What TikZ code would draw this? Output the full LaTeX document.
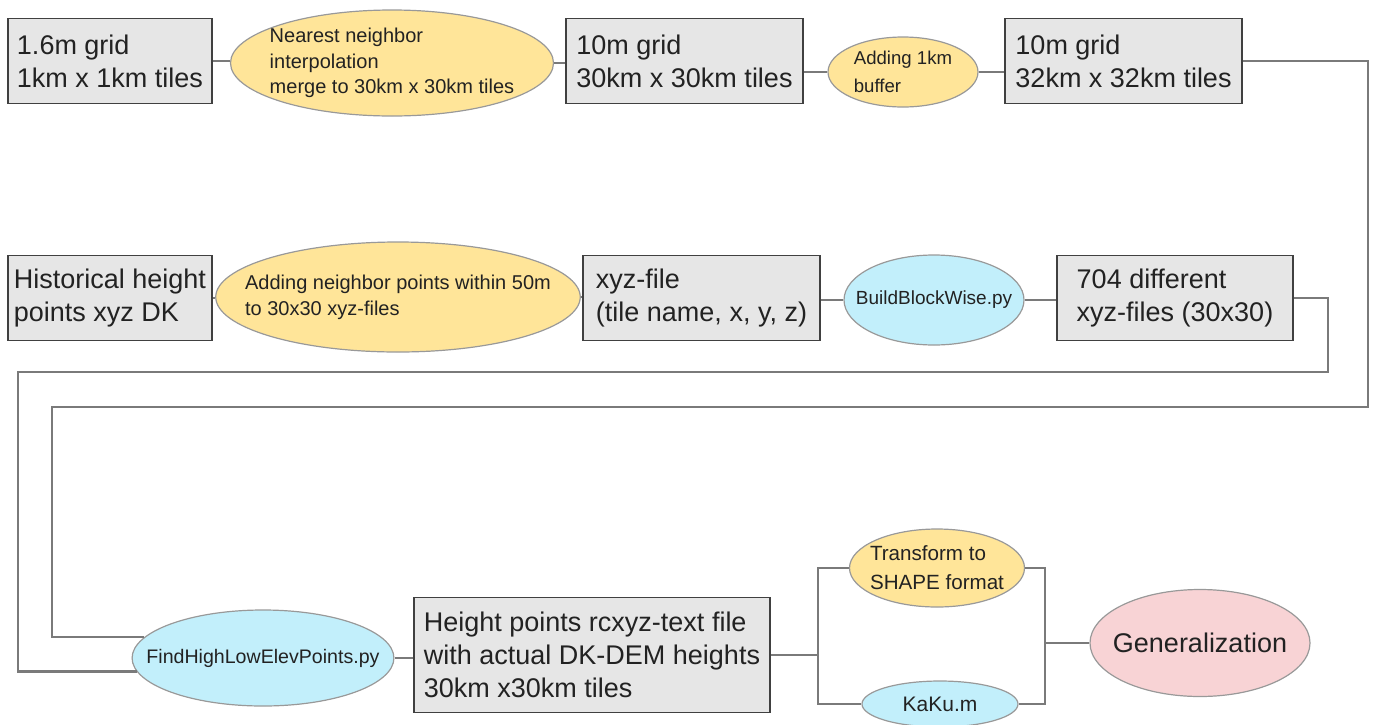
\documentclass[tikz,border=0pt]{standalone}
\usepackage{fontspec}
\setmainfont{Liberation Sans}
\usetikzlibrary{shapes.geometric}

\definecolor{boxgray}{HTML}{E6E6E6}
\definecolor{stepyellow}{HTML}{FFE599}
\definecolor{scriptblue}{HTML}{C2EFFB}
\definecolor{finalpink}{HTML}{F8D3D5}
\definecolor{linkgray}{HTML}{7A7A7A}
\definecolor{inkgray}{HTML}{222222}

\begin{document}
\begin{tikzpicture}[x=0.5pt,y=-0.5pt,
	every node/.style = {text=inkgray},
	databox/.style = {draw=black!75, line width=0.9pt, fill=boxgray, align=left,
		font=\fontsize{13.5}{16.5}\selectfont, inner xsep=2pt, minimum height=42.5pt},
	oval/.style = {ellipse, draw=black!40, line width=0.6pt, inner sep=-12pt, align=left},
	task/.style = {oval, fill=stepyellow, font=\fontsize{10}{12.7}\selectfont},
	script/.style = {oval, fill=scriptblue, font=\fontsize{9.5}{12}\selectfont},
	link/.style = {draw=linkgray, line width=1.2pt}]
	
	\useasboundingbox (0,0) rectangle (1376,724);
	
	% first row
	\node[databox, minimum width=102pt] (A) at (110,61) {1.6m grid\\1km x 1km tiles};
	\node[task, minimum width=161.5pt, minimum height=53pt] (B) at (392,63)
		{Nearest neighbor\\interpolation\\merge to 30km x 30km tiles};
	\node[databox, minimum width=118.5pt] (C) at (684.5,61) {10m grid\\30km x 30km tiles};
	\node[task, minimum width=75pt, minimum height=35pt, font=\fontsize{9.3}{14}\selectfont] (D) at (903,72)
		{Adding 1km\\buffer};
	\node[databox, minimum width=118.5pt] (E) at (1123.5,61) {10m grid\\32km x 32km tiles};
	
	% second row
	\node[databox, minimum width=102pt] (F) at (110,298) {Historical height\\points xyz DK};
	\node[task, minimum width=168.5pt, minimum height=55pt, font=\fontsize{10}{13}\selectfont] (G) at (398,297)
		{Adding neighbor points within 50m\\to 30x30 xyz-files};
	\node[databox, minimum width=118.5pt] (H) at (701.5,298) {xyz-file\\(tile name, x, y, z)};
	\node[script, minimum width=90pt, minimum height=45pt] (I) at (934,300) {BuildBlockWise.py};
	\node[databox, minimum width=118pt] (J) at (1175,298) {704 different\\xyz-files (30x30)};
	
	% third row
	\node[script, minimum width=126.5pt, minimum height=48pt, font=\fontsize{9.8}{12}\selectfont] (K) at (263,658)
		{FindHighLowElevPoints.py};
	\node[databox, minimum width=178pt, minimum height=57.5pt] (L) at (592,655)
		{Height points rcxyz-text file\\with actual DK-DEM heights\\30km x30km tiles};
	\node[task, minimum width=87.5pt, minimum height=39pt, font=\fontsize{10.3}{14.5}\selectfont] (M) at (937,568)
		{Transform to\\SHAPE format};
	\node[script, minimum width=78pt, minimum height=23pt, font=\fontsize{10.5}{12}\selectfont] (N) at (940,704) {KaKu.m};
	\node[oval, fill=finalpink, minimum width=110pt, minimum height=53.5pt, font=\fontsize{13.5}{16}\selectfont] (O) at (1200,643)
		{Generalization};
	
	% bends of the long connectors
	\coordinate (outerR) at (1368,407);
	\coordinate (outerL) at (52,407);
	\coordinate (innerR) at (1328,372);
	\coordinate (innerL) at (18,372);
	\coordinate (splitL) at (818,655);
	\coordinate (splitR) at (1045,643);
	
	% connectors
	\draw[link] (A.east) -- (A.east -| B.west);
	\draw[link] (B.east) -- (B.east -| C.west);
	\draw[link] (C.east |- D.west) -- (D.west);
	\draw[link] (D.east) -- (D.east -| E.west);
	\draw[link] (F.east) -- (F.east -| G.west);
	\draw[link] (G.east) -- (G.east -| H.west);
	\draw[link] (H.east |- I.west) -- (I.west);
	\draw[link] (I.east) -- (I.east -| J.west);
	\draw[link] (E.east) -| (outerR) -- (outerL) |- (K.170);
	\draw[link] (J.east) -| (innerR) -- (innerL) |- (K.186);
	\draw[link] (K.east) -- (K.east -| L.west);
	\draw[link] (L.east) -- (splitL);
	\draw[link] (M.west) -| (splitL) |- (N.west);
	\draw[link] (M.east) -| (splitR) |- (N.east);
	\draw[link] (splitR) -- (O.west);
\end{tikzpicture}
\end{document}
